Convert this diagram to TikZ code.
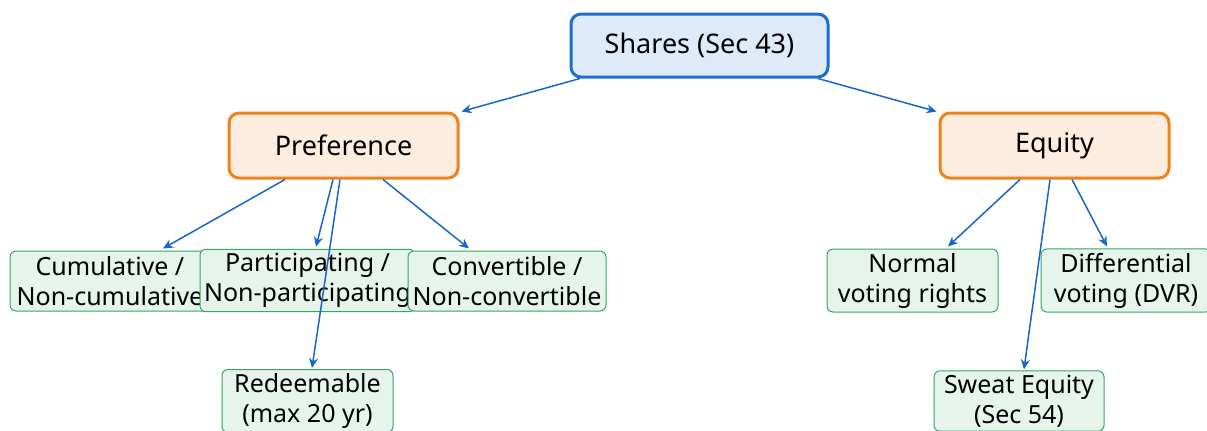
\documentclass[tikz,border=0pt]{standalone}
\usepackage{fontspec}
\setmainfont{Noto Sans}
\usepackage{xcolor}
\usetikzlibrary{arrows.meta}
\definecolor{rootline}{HTML}{1C6FD0}
\definecolor{rootfill}{HTML}{DFEAF8}
\definecolor{kindline}{HTML}{F0821C}
\definecolor{kindfill}{HTML}{FCEDDE}
\definecolor{leafline}{HTML}{33A862}
\definecolor{leaffill}{HTML}{E6F4EC}
\definecolor{arrowcol}{HTML}{1766CB}
\tikzset{
  rootbox/.style={draw=rootline, fill=rootfill, line width=1.5pt, rounded corners=5pt,
    minimum width=128.5pt, minimum height=31.5pt, font=\fontsize{13.5}{16}\selectfont},
  kindbox/.style={draw=kindline, fill=kindfill, line width=1.5pt, rounded corners=5pt,
    minimum width=114.5pt, minimum height=32.5pt, font=\fontsize{13.5}{16}\selectfont},
  leafbox/.style={draw=leafline, fill=leaffill, line width=0.5pt, rounded corners=3pt,
    align=center, inner xsep=1pt, inner ysep=2pt, minimum height=30pt,
    font=\fontsize{12.5}{15}\selectfont},
  link/.style={draw=arrowcol, line width=0.75pt, -{Stealth[length=5pt, width=4.5pt]}}
}

\begin{document}
\begin{tikzpicture}[x=0.5pt, y=-0.5pt]
    \useasboundingbox (0,0) rectangle (1207,430);

    % Root
    \node[rootbox] (shares) at (699.5,45.5) {Shares (Sec 43)};

    % Two kinds
    \node[kindbox] (pref) at (343.5,145.5) {Preference};
    \node[kindbox] (equity) at (1054.5,145.5) {Equity};

    % Preference leaves
    \node[leafbox, minimum width=100pt] (cumul) at (110,281) {Cumulative /\\Non-cumulative};
    \node[leafbox, minimum width=107.5pt] (partic) at (307.5,280.5) {Participating /\\Non-participating};
    \node[leafbox, minimum width=99pt] (convert) at (507,281) {Convertible /\\Non-convertible};
    \node[leafbox, minimum width=85.5pt] (redeem) at (307.5,401) {Redeemable\\(max 20 yr)};

    % Equity leaves
    \node[leafbox, minimum width=85.5pt] (normal) at (912.5,280.5) {Normal\\voting rights};
    \node[leafbox, minimum width=85pt] (dvr) at (1126,280.5) {Differential\\voting (DVR)};
    \node[leafbox, minimum width=85pt] (sweat) at (1019,401) {Sweat Equity\\(Sec 54)};

    % Links
    \draw[link] ([xshift=-59.75pt]shares.south) -- ([xshift=1pt]pref.north east);
    \draw[link] ([xshift=59.25pt]shares.south) -- ([xshift=-1pt]equity.north west);

    \draw[link] ([xshift=-29.25pt]pref.south) -- ([xshift=26.5pt, yshift=1pt]cumul.north);
    \draw[link] ([xshift=-5.25pt]pref.south) -- ([xshift=4.25pt, yshift=1pt]partic.north);
    \draw[link] ([xshift=-1.75pt]pref.south) -- ([xshift=2.25pt, yshift=0.5pt]redeem.north);
    \draw[link] ([xshift=19.75pt]pref.south) -- ([xshift=-19pt, yshift=1pt]convert.north);

    \draw[link] ([xshift=-17.25pt]equity.south) -- ([xshift=17.75pt, yshift=1pt]normal.north);
    \draw[link] ([xshift=-2.25pt]equity.south) -- ([xshift=2.5pt, yshift=0.5pt]sweat.north);
    \draw[link] ([xshift=8.75pt]equity.south) -- ([xshift=-9.5pt, yshift=1pt]dvr.north);
\end{tikzpicture}
\end{document}
